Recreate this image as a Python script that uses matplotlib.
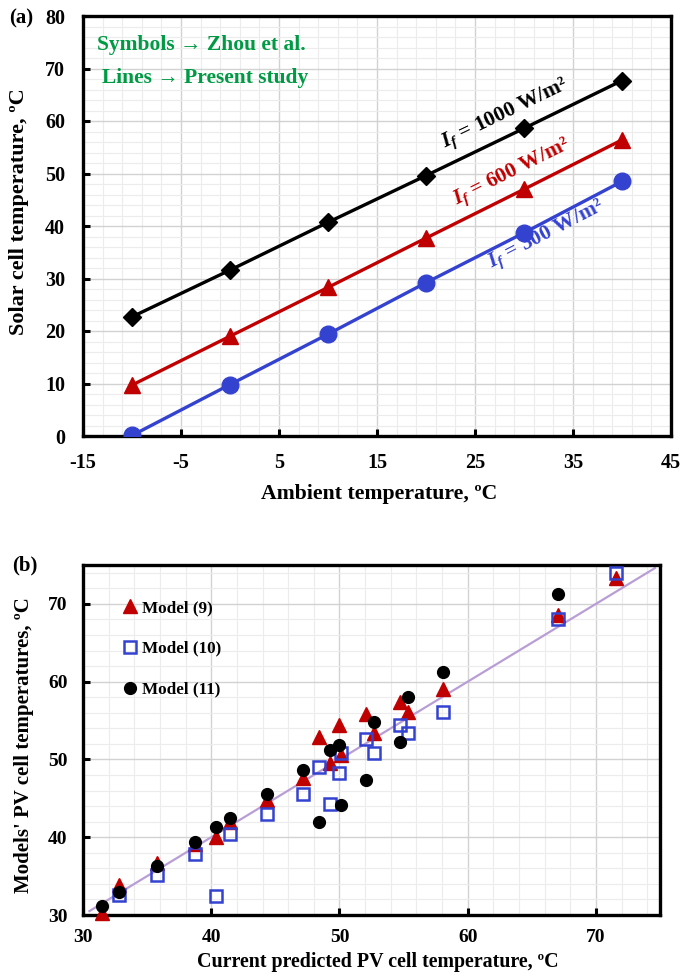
import numpy as np
import matplotlib
matplotlib.use("Agg")
import matplotlib.pyplot as plt
from matplotlib.ticker import FixedLocator

plt.rcParams["font.family"] = ["Liberation Serif", "DejaVu Serif"]
plt.rcParams["font.weight"] = "bold"
plt.rcParams["axes.unicode_minus"] = False
plt.rcParams["mathtext.fontset"] = "custom"
plt.rcParams["mathtext.it"] = "Liberation Serif:italic:bold"
plt.rcParams["mathtext.rm"] = "Liberation Serif:bold"
plt.rcParams["mathtext.bf"] = "Liberation Serif:bold"

# ---------------- panel (a): cell temperature vs ambient temperature ----------
ambient = [-10, 0, 10, 20, 30, 40]
cell_1000 = [22.7, 31.6, 40.7, 49.6, 58.6, 67.7]
cell_600 = [9.7, 19.0, 28.3, 37.7, 47.0, 56.4]
cell_300 = [0.1, 9.8, 19.4, 29.2, 38.7, 48.5]
a_xticks = [-15, -5, 5, 15, 25, 35, 45]
a_yticks = [0, 10, 20, 30, 40, 50, 60, 70, 80]

# ---------------- panel (b): model comparison ---------------------------------
pred_m9 = [31.46, 32.84, 35.76, 38.7, 40.34, 41.5, 44.35, 47.19, 48.4, 49.24,
           49.95, 50.1, 52.1, 52.7, 54.7, 55.35, 58.1, 67.06, 71.56]
model_9 = [30.2, 33.9, 36.7, 39.1, 40.0, 42.0, 44.8, 47.6, 52.9, 49.6,
           54.4, 50.6, 55.9, 53.4, 57.4, 56.1, 59.0, 68.6, 73.3]

pred_m10 = [32.84, 35.76, 38.7, 40.34, 41.5, 44.35, 47.19, 48.4, 49.24,
            49.95, 50.1, 52.1, 52.7, 54.7, 55.35, 58.1, 67.06, 71.56]
model_10 = [32.6, 35.2, 37.9, 32.45, 40.4, 43.0, 45.6, 49.0, 44.3,
            48.2, 50.8, 52.6, 50.85, 54.4, 53.4, 56.1, 68.1, 74.0]

pred_m11 = [31.46, 32.84, 35.76, 38.7, 40.34, 41.5, 44.35, 47.19, 48.4, 49.24,
            49.95, 50.1, 52.1, 52.7, 54.7, 55.35, 58.1, 67.06]
model_11 = [31.2, 33.0, 36.3, 39.4, 41.3, 42.5, 45.6, 48.7, 41.9, 51.2,
            51.8, 44.1, 47.3, 54.85, 52.2, 58.0, 61.2, 71.3]

parity_x = [30.5, 74.6]
parity_y = [30.5, 74.6]
b_ticks = [30, 40, 50, 60, 70]

W, H = 681, 977
fig = plt.figure(figsize=(W / 100, H / 100), dpi=100)


def px_axes(l, t, r, b):
    return fig.add_axes([l / W, 1 - b / H, (r - l) / W, (b - t) / H])


def ftext(x, y, s, **kw):
    fig.text(x / W, 1 - y / H, s, **kw)


def style_axes(ax, fs, xpad, ypad):
    for sp in ax.spines.values():
        sp.set_linewidth(2.4)
        sp.set_color("black")
    ax.tick_params(which="major", direction="in", length=5, width=2.2,
                   labelsize=fs, top=False, right=False)
    ax.tick_params(axis="x", which="major", pad=xpad)
    ax.tick_params(axis="y", which="major", pad=ypad)
    ax.tick_params(which="minor", length=0)
    ax.set_axisbelow(True)
    ax.grid(which="major", color="#d2d2d2", lw=1.0)
    ax.grid(which="minor", color="#ececec", lw=0.8)
    for lab in ax.get_xticklabels() + ax.get_yticklabels():
        lab.set_fontweight("bold")


RED = "#C00000"
BLUE = "#3442D0"
GREEN = "#009A44"

# ---- panel (a)
ax1 = px_axes(83, 16, 671, 436)
ax1.plot(ambient, cell_1000, "-D", color="black", lw=2.4, ms=9.5, zorder=3)
ax1.plot(ambient, cell_600, "-^", color=RED, lw=2.4, ms=11.5, zorder=3)
ax1.plot(ambient, cell_300, "-o", color=BLUE, lw=2.4, ms=12, zorder=3)
ax1.set_xlim(-15, 45)
ax1.set_ylim(0, 80)
ax1.xaxis.set_major_locator(FixedLocator(a_xticks))
ax1.yaxis.set_major_locator(FixedLocator(a_yticks))
ax1.xaxis.set_minor_locator(FixedLocator(np.arange(-15, 46, 2)))
ax1.yaxis.set_minor_locator(FixedLocator(np.arange(0, 81, 2)))
style_axes(ax1, 14.5, 12, 13)


def line_angle(ax, xs, ys):
    p0 = ax.transData.transform((xs[0], ys[0]))
    p1 = ax.transData.transform((xs[-1], ys[-1]))
    return np.degrees(np.arctan2(p1[1] - p0[1], p1[0] - p0[0]))


labels_a = [
    (28.1, 61.3, cell_1000, "black", "1000"),
    (28.8, 50.2, cell_600, RED, "600"),
    (32.3, 38.2, cell_300, BLUE, "300"),
]
for x, y, series, col, val in labels_a:
    ang = line_angle(ax1, ambient, series)
    ax1.text(x, y, r"$I_f$ = " + val + " W/m²", color=col, fontsize=15.5,
             fontweight="bold", rotation=ang, rotation_mode="anchor",
             ha="center", va="center", zorder=4)

ax1.text(0.024, 0.931, "Symbols → Zhou et al.", transform=ax1.transAxes,
         color=GREEN, fontsize=15.5, fontweight="bold", ha="left",
         va="center")
ax1.text(0.033, 0.852, "Lines → Present study", transform=ax1.transAxes,
         color=GREEN, fontsize=15.5, fontweight="bold", ha="left",
         va="center")

ftext(21, 18, "(a)", fontsize=15, fontweight="bold", ha="center", va="center")
ftext(379, 494, "Ambient temperature, ºC", fontsize=15.7, fontweight="bold",
      ha="center", va="center")
ftext(19, 212, "Solar cell temperature, ºC", fontsize=16, fontweight="bold",
      ha="center", va="center", rotation=90)

# ---- panel (b)
ax2 = px_axes(83, 565, 660, 915)
ax2.plot(parity_x, parity_y, "-", color="#B99ED6", lw=1.6, zorder=2)
ax2.plot(pred_m9, model_9, "^", color=RED, ms=10, ls="none", zorder=3,
         clip_on=False, label="Model (9)")
ax2.plot(pred_m10, model_10, "s", mfc="none", mec=BLUE, mew=1.8, ms=8,
         ls="none", zorder=4, label="Model (10)")
ax2.plot(pred_m11, model_11, "o", color="black", ms=8.5, ls="none", zorder=5,
         label="Model (11)")
ax2.set_xlim(30, 75)
ax2.set_ylim(30, 75)
ax2.xaxis.set_major_locator(FixedLocator(b_ticks))
ax2.yaxis.set_major_locator(FixedLocator(b_ticks))
ax2.xaxis.set_minor_locator(FixedLocator(np.arange(30, 76, 2)))
ax2.yaxis.set_minor_locator(FixedLocator(np.arange(30, 76, 2)))
style_axes(ax2, 14, 10, 11)

leg = ax2.legend(loc="upper left", bbox_to_anchor=(0.066, 0.9),
                 frameon=False, handlelength=1.0,
                 handletextpad=0.2, labelspacing=1.45, borderpad=0,
                 borderaxespad=0, prop={"weight": "bold", "size": 12.3})

ftext(25, 565, "(b)", fontsize=15, fontweight="bold", ha="center", va="center")
ftext(378, 962, "Current predicted PV cell temperature, ºC", fontsize=14.4,
      fontweight="bold", ha="center", va="center")
ftext(24, 745, "Models' PV cell temperatures, ºC", fontsize=15,
      fontweight="bold", ha="center", va="center", rotation=90)

fig.savefig("out.png", dpi=100)
